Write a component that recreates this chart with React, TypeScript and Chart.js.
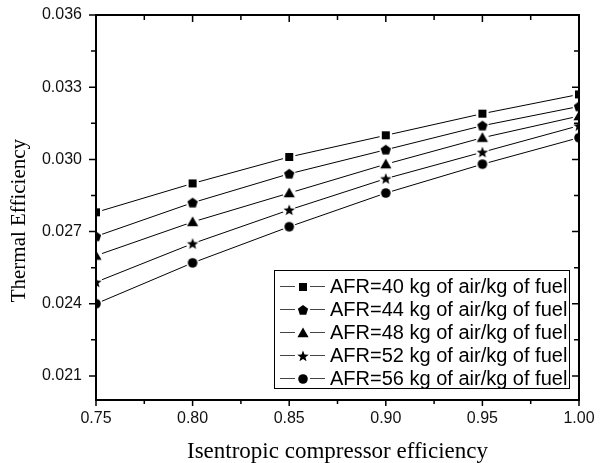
import { useEffect, useRef } from 'react';
import { Chart, registerables } from 'chart.js';

Chart.register(...registerables);

// ---- data ----
const efficiency = [0.75, 0.8, 0.85, 0.9, 0.95, 1.0];
const afr40 = [0.0278, 0.029, 0.0301, 0.031, 0.0319, 0.0327];
const afr44 = [0.0268, 0.0282, 0.0294, 0.0304, 0.0314, 0.0322];
const afr48 = [0.026, 0.0274, 0.0286, 0.0298, 0.0309, 0.0318];
const afr52 = [0.0249, 0.0265, 0.0279, 0.0292, 0.0303, 0.0314];
const afr56 = [0.024, 0.0257, 0.0272, 0.0286, 0.0298, 0.0309];
const seriesLabels = [
  'AFR=40 kg of air/kg of fuel',
  'AFR=44 kg of air/kg of fuel',
  'AFR=48 kg of air/kg of fuel',
  'AFR=52 kg of air/kg of fuel',
  'AFR=56 kg of air/kg of fuel',
];
const seriesShapes = ['square', 'pentagon', 'triangle', 'star', 'circle'];
const xTicks = [0.75, 0.8, 0.85, 0.9, 0.95, 1.0];
const xMinorTicks = [0.775, 0.825, 0.875, 0.925, 0.975];
const yTicks = [0.021, 0.024, 0.027, 0.03, 0.033, 0.036];
const yMinorTicks = [0.0225, 0.0255, 0.0285, 0.0315, 0.0345];
const xTitle = 'Isentropic compressor efficiency';
const yTitle = 'Thermal Efficiency     ';

const allSeries = [afr40, afr44, afr48, afr52, afr56];

function makeMarker(shape: string): HTMLCanvasElement {
  const s = 16;
  const c = document.createElement('canvas');
  c.width = s;
  c.height = s;
  const ctx = c.getContext('2d')!;
  ctx.translate(s / 2, s / 2);
  ctx.fillStyle = '#000';
  ctx.beginPath();
  if (shape === 'square') {
    ctx.rect(-4, -4, 8, 8);
  } else if (shape === 'circle') {
    ctx.arc(0, 0, 4.8, 0, Math.PI * 2);
  } else if (shape === 'triangle') {
    ctx.moveTo(0, -5.5);
    ctx.lineTo(5.6, 4.2);
    ctx.lineTo(-5.6, 4.2);
    ctx.closePath();
  } else if (shape === 'pentagon') {
    for (let k = 0; k < 5; k++) {
      const a = -Math.PI / 2 + (k * 2 * Math.PI) / 5;
      const px = 5.4 * Math.cos(a);
      const py = 5.4 * Math.sin(a) + 0.4;
      if (k === 0) ctx.moveTo(px, py);
      else ctx.lineTo(px, py);
    }
    ctx.closePath();
  } else if (shape === 'star') {
    for (let k = 0; k < 10; k++) {
      const a = -Math.PI / 2 + (k * Math.PI) / 5;
      const r = k % 2 === 0 ? 6 : 2.6;
      const px = r * Math.cos(a);
      const py = r * Math.sin(a) + 0.5;
      if (k === 0) ctx.moveTo(px, py);
      else ctx.lineTo(px, py);
    }
    ctx.closePath();
  }
  ctx.fill();
  return c;
}

const zeroPad = (scale: any) => {
  scale.paddingTop = 0;
  scale.paddingBottom = 0;
  scale.paddingLeft = 0;
  scale.paddingRight = 0;
};

export default function App() {
  const ref = useRef<HTMLCanvasElement>(null);

  useEffect(() => {
    const canvas = ref.current;
    if (!canvas) return;
    const markers = seriesShapes.map(makeMarker);

    const pts = (arr: number[]) => efficiency.map((x, i) => ({ x, y: arr[i] }));

    const lineSets = allSeries.map((arr, i) => ({
      label: seriesLabels[i],
      data: pts(arr),
      borderColor: '#000',
      borderWidth: 1,
      pointRadius: 0,
      pointHoverRadius: 0,
      tension: 0,
      fill: false,
      order: 3,
    }));
    const haloSets = allSeries.map((arr) => ({
      label: '',
      data: pts(arr),
      showLine: false,
      pointStyle: 'circle',
      pointRadius: 6.5,
      pointHoverRadius: 6.5,
      pointBackgroundColor: '#fff',
      pointBorderWidth: 0,
      borderWidth: 0,
      clip: 0,
      order: 2,
    }));
    const markerSets = allSeries.map((arr, i) => ({
      label: '',
      data: pts(arr),
      showLine: false,
      pointStyle: markers[i],
      pointRadius: 5,
      pointHoverRadius: 5,
      pointBorderWidth: 0,
      borderWidth: 0,
      clip: 0,
      order: 1,
    }));

    const framePlugin = {
      id: 'frame',
      afterDatasetsDraw(chart: any) {
        const { ctx, chartArea, scales } = chart;
        const { left, right, top, bottom } = chartArea;
        const xs = scales.x;
        const ys = scales.y;
        ctx.save();
        ctx.strokeStyle = '#000';
        ctx.lineWidth = 2;
        ctx.strokeRect(left, top, right - left, bottom - top);
        ctx.lineWidth = 1.5;
        ctx.beginPath();
        const seg = (x1: number, y1: number, x2: number, y2: number) => {
          ctx.moveTo(x1, y1);
          ctx.lineTo(x2, y2);
        };
        xTicks.forEach((v) => {
          const p = xs.getPixelForValue(v);
          seg(p, bottom, p, bottom + 6);
          seg(p, top, p, top + 7);
        });
        xMinorTicks.forEach((v) => {
          const p = xs.getPixelForValue(v);
          seg(p, bottom, p, bottom + 4);
          seg(p, top, p, top + 5);
        });
        yTicks.forEach((v) => {
          const p = ys.getPixelForValue(v);
          seg(left - 7, p, left, p);
          seg(right - 7, p, right, p);
        });
        yMinorTicks.forEach((v) => {
          const p = ys.getPixelForValue(v);
          seg(left - 5, p, left, p);
          seg(right - 5, p, right, p);
        });
        ctx.stroke();
        ctx.restore();
      },
    };

    const legendPlugin = {
      id: 'innerLegend',
      afterDraw(chart: any) {
        const { ctx, chartArea } = chart;
        const boxRight = chartArea.right - 10;
        const boxBottom = chartArea.bottom - 12;
        const boxLeft = boxRight - 295;
        const rowH = 23;
        const boxTop = boxBottom - 118;
        ctx.save();
        ctx.fillStyle = '#fff';
        ctx.fillRect(boxLeft, boxTop, boxRight - boxLeft, boxBottom - boxTop);
        ctx.strokeStyle = '#000';
        ctx.lineWidth = 1;
        ctx.strokeRect(boxLeft + 0.5, boxTop + 0.5, boxRight - boxLeft, boxBottom - boxTop);
        ctx.font = '20px "Liberation Sans", Arial, sans-serif';
        ctx.textBaseline = 'middle';
        ctx.textAlign = 'left';
        seriesLabels.forEach((lab, i) => {
          const cy = Math.round(boxTop + 15.5 + i * rowH) + 0.5;
          ctx.strokeStyle = '#444';
          ctx.lineWidth = 1;
          ctx.beginPath();
          ctx.moveTo(boxLeft + 6, cy);
          ctx.lineTo(boxLeft + 21, cy);
          ctx.moveTo(boxLeft + 36, cy);
          ctx.lineTo(boxLeft + 51, cy);
          ctx.stroke();
          const m = markers[i];
          ctx.drawImage(m, Math.round(boxLeft + 28.5 - m.width / 2), Math.round(cy - m.height / 2));
          ctx.fillStyle = '#000';
          ctx.fillText(lab, boxLeft + 56, cy + 1);
        });
        ctx.restore();
      },
    };

    const chart = new Chart(canvas, {
      type: 'line',
      data: { datasets: [...lineSets, ...haloSets, ...markerSets] as any },
      options: {
        animation: false,
        responsive: false,
        events: [],
        layout: { padding: { top: 15, right: 23, bottom: 0, left: 0 } },
        plugins: { legend: { display: false }, tooltip: { enabled: false } },
        scales: {
          x: {
            type: 'linear',
            min: 0.75,
            max: 1.0,
            afterBuildTicks: (scale: any) => {
              scale.ticks = xTicks.map((v) => ({ value: v }));
            },
            afterFit: (scale: any) => {
              scale.height = 63;
              zeroPad(scale);
            },
            grid: { display: false, drawTicks: false },
            border: { display: false },
            ticks: {
              padding: 9,
              color: '#111',
              maxRotation: 0,
              font: { family: '"Liberation Sans", Arial, sans-serif', size: 16 },
              callback: (v: any) => Number(v).toFixed(2),
            },
            title: {
              display: true,
              text: xTitle,
              color: '#000',
              font: { family: '"Liberation Serif", "Times New Roman", serif', size: 23, lineHeight: 1 },
              padding: { top: 0, bottom: 0 },
            },
          },
          y: {
            type: 'linear',
            min: 0.02,
            max: 0.036,
            afterBuildTicks: (scale: any) => {
              scale.ticks = yTicks.map((v) => ({ value: v }));
            },
            afterFit: (scale: any) => {
              scale.width = 96;
              zeroPad(scale);
            },
            grid: { display: false, drawTicks: false },
            border: { display: false },
            ticks: {
              padding: 14,
              color: '#111',
              font: { family: '"Liberation Sans", Arial, sans-serif', size: 16 },
              callback: (v: any) => Number(v).toFixed(3),
            },
            title: {
              display: true,
              text: yTitle,
              color: '#000',
              font: { family: '"Liberation Serif", "Times New Roman", serif', size: 21, lineHeight: 1 },
              padding: { top: 9, bottom: 0 },
            },
          },
        },
      },
      plugins: [framePlugin, legendPlugin],
    });

    return () => chart.destroy();
  }, []);

  return (
    <div style={{ position: 'absolute', left: 0, top: 0, width: 602, height: 463, background: '#fff' }}>
      <canvas ref={ref} width={602} height={463} style={{ display: 'block' }} />
    </div>
  );
}
